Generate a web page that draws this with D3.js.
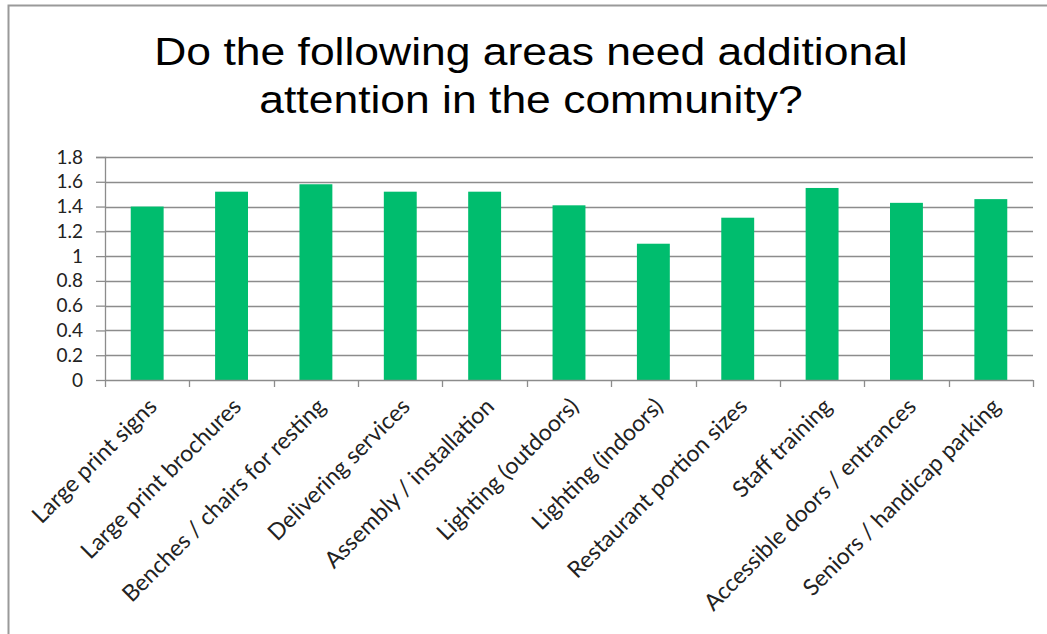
<!DOCTYPE html>
<html>
<head>
<meta charset="utf-8">
<script src="https://cdn.jsdelivr.net/npm/d3@7"></script>
<style>
  body { margin: 0; background: #fff; }
</style>
</head>
<body>
<div class="canvas"></div>
<script>
// chart data
const categories = [
	'Large print signs', 'Large print brochures', 'Benches / chairs for resting',
	'Delivering services', 'Assembly / installation', 'Lighting (outdoors)',
	'Lighting (indoors)', 'Restaurant portion sizes', 'Staff training',
	'Accessible doors / entrances', 'Seniors / handicap parking'
];
const values = [1.40, 1.52, 1.58, 1.52, 1.52, 1.41, 1.10, 1.31, 1.55, 1.43, 1.46];
const yTicks = [0, 0.2, 0.4, 0.6, 0.8, 1, 1.2, 1.4, 1.6, 1.8];
const titleLines = ['Do the following areas need additional', 'attention in the community?'];

const dims = { width: 1047, height: 634 };
const margin = { top: 157, right: 14, bottom: 254, left: 105 };
const inner = {
	width: dims.width - margin.left - margin.right,
	height: dims.height - margin.top - margin.bottom
};
const gridColour = '#8c8c8c';
const labelFont = 'Lato, Open Sans, sans-serif';

const svg = d3.select('.canvas').append('svg')
	.attr('width', dims.width)
	.attr('height', dims.height);

// frame (only top + left edges show)
svg.append('path')
	.attr('d', `M8.5,${dims.height} V5.5 H${dims.width}`)
	.attr('fill', 'none')
	.attr('stroke', '#9a9a9a')
	.attr('stroke-width', 2);

// title - slightly stretched horizontally like the source
svg.append('g')
	.attr('transform', 'translate(531, 0) scale(1.14, 1)')
	.selectAll('text')
	.data(titleLines)
	.enter().append('text')
	.attr('x', 0)
	.attr('y', (d, i) => 65 + i * 48)
	.attr('text-anchor', 'middle')
	.attr('font-family', 'Liberation Sans, Arial, sans-serif')
	.attr('font-size', 39)
	.attr('fill', '#000')
	.text(d => d);

const graph = svg.append('g')
	.attr('transform', `translate(${margin.left}, ${margin.top})`);

const x = d3.scaleBand()
	.domain(categories)
	.range([0, inner.width])
	.paddingInner(0.61)
	.paddingOuter(0.305);

const y = d3.scaleLinear()
	.domain([0, 1.8])
	.range([inner.height, 0]);

// gridlines
graph.append('g')
	.selectAll('line')
	.data(yTicks.filter(d => d > 0))
	.enter().append('line')
	.attr('x1', 0)
	.attr('x2', inner.width)
	.attr('y1', d => Math.round(y(d)) + 0.5)
	.attr('y2', d => Math.round(y(d)) + 0.5)
	.attr('stroke', gridColour)
	.attr('stroke-width', 1.3);

// bars
graph.selectAll('rect')
	.data(values)
	.enter().append('rect')
	.attr('x', (d, i) => x(categories[i]))
	.attr('y', d => y(d))
	.attr('width', x.bandwidth())
	.attr('height', d => inner.height - y(d))
	.attr('fill', '#00bd6e');

// y axis
const yAxis = d3.axisLeft(y)
	.tickValues(yTicks)
	.tickSize(9)
	.tickPadding(13)
	.tickFormat(d => d3.format('~g')(d));

const yAxisGroup = graph.append('g').call(yAxis);
yAxisGroup.select('.domain').attr('d', `M-9,0.5H0.5V${inner.height}`).attr('stroke', gridColour).attr('stroke-width', 1.3);
yAxisGroup.selectAll('.tick line').attr('stroke', gridColour).attr('stroke-width', 1.3);
yAxisGroup.selectAll('text')
	.attr('font-family', labelFont)
	.attr('font-size', 19)
	.attr('fill', '#222');

// x axis (ticks on band boundaries)
const bounds = d3.range(categories.length + 1).map(i => i * x.step());
const xAxisGroup = graph.append('g')
	.attr('transform', `translate(0, ${inner.height})`);

xAxisGroup.append('line')
	.attr('x1', 0).attr('x2', inner.width)
	.attr('y1', 0.5).attr('y2', 0.5)
	.attr('stroke', gridColour)
	.attr('stroke-width', 1.3);

xAxisGroup.selectAll('.tickmark')
	.data(bounds)
	.enter().append('line')
	.attr('class', 'tickmark')
	.attr('x1', d => Math.round(d) + 0.5)
	.attr('x2', d => Math.round(d) + 0.5)
	.attr('y1', 0)
	.attr('y2', 7)
	.attr('stroke', gridColour)
	.attr('stroke-width', 1.3);

xAxisGroup.selectAll('.label')
	.data(categories)
	.enter().append('text')
	.attr('class', 'label')
	.attr('transform', d => `translate(${x(d) + x.bandwidth() / 2 + 11}, 28) rotate(-45)`)
	.attr('text-anchor', 'end')
	.attr('font-family', labelFont)
	.attr('font-size', 23)
	.attr('fill', '#222')
	.text(d => d);
</script>
</body>
</html>
